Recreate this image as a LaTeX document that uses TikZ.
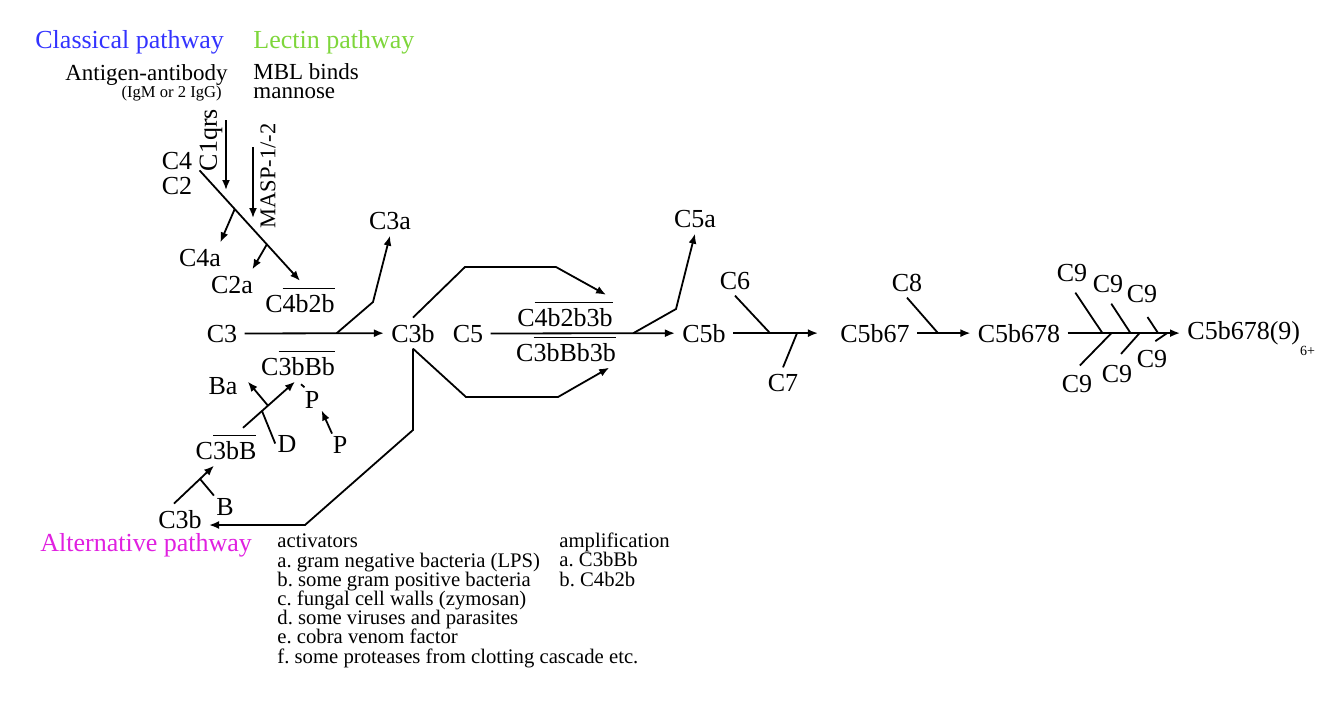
\documentclass[tikz,border=0pt]{standalone}
\usepackage{fontspec}
\setmainfont{Liberation Serif}
\usetikzlibrary{arrows.meta,positioning,calc}
\definecolor{classblue}{HTML}{3333FF}
\definecolor{lectgreen}{HTML}{7ED63B}
\definecolor{altmagenta}{HTML}{E020E0}
\newcommand{\actv}[1]{$\overline{\mbox{\rule{0pt}{0.8em}#1}}$}
\newcommand{\listfont}{\fontsize{10.35}{9.6}\selectfont\lineskiplimit=-5pt\relax}
\newcommand{\notefont}{\fontsize{11.5}{9.2}\selectfont\lineskiplimit=-5pt\relax}
\frenchspacing

\begin{document}
\begin{tikzpicture}[
  x=0.5pt,y=-0.5pt,
  lbl/.style={font=\fontsize{13}{15.6}\selectfont,anchor=base,inner xsep=3.5pt,inner ysep=3pt},
  sml/.style={lbl,inner sep=1pt},
  ttl/.style={font=\fontsize{13}{15.6}\selectfont,inner sep=0pt},
  note/.style={font=\notefont,inner sep=0pt,align=left},
  txt/.style={font=\listfont,inner sep=0pt,align=left,anchor=base west},
  arr/.style={-{Latex[length=5pt,width=4pt]},line width=0.9pt},
  ln/.style={line width=0.9pt}
]
\useasboundingbox (0,0) rectangle (1334,709);
% titles
\node[ttl,classblue,anchor=base west] (classical) at (35,48) {Classical pathway};
\node[ttl,lectgreen,anchor=base west] (lectin) at (253,48) {Lectin pathway};
\node[ttl,altmagenta,anchor=base west] (altern) at (40,551) {Alternative pathway};
\node[note,anchor=base east] (antigen) at (228,80) {Antigen-antibody};
\node[note,anchor=base east,font=\fontsize{8.3}{10}\selectfont] (igm) at (222,97) {(IgM or 2 IgG)};
% multi-line: base is the last line
\node[note,anchor=base west] (mbl) at (253,98) {MBL binds\\mannose};
\node[ttl,rotate=90] (c1qrs) at (211,140) {C1qrs};
\node[ttl,rotate=90,font=\fontsize{11.25}{13}\selectfont] (masp) at (268,176) {MASP-1/-2};
\coordinate (c1top) at (226,120);
\coordinate (c1end) at (226,190);
\coordinate (masptop) at (253,147);
\coordinate (maspend) at (253,218);
\draw[arr] (c1top) -- (c1end);
\draw[arr] (masptop) -- (maspend);

% classical / lectin cleavage
\node[lbl] (c4) at (177,169) {C4};
\node[lbl] (c2) at (177,194) {C2};
\node[lbl] (c4a) at (200,266) {C4a};
\node[lbl] (c2a) at (232,293) {C2a};
\node[lbl] (c4b2b) at (300,312) {C\actv{4b2b}};
\draw[arr] (c2.north east) -- (c4b2b.north);
\coordinate (c4cut) at ($(c2.north east)!0.35!(c4b2b.north)$);
\coordinate (c2cut) at ($(c2.north east)!0.67!(c4b2b.north)$);
\draw[arr] (c4cut) -- ([xshift=-4pt]c4a.north east);
\draw[arr] (c2cut) -- ([xshift=-4pt]c2a.north east);

% C3 convertase step
\node[lbl] (c3) at (222,342) {C3};
\node[lbl] (c3b) at (413,342) {C3b};
\node[lbl] (c3a) at (390,229) {C3a};
\draw[arr] (c3) -- (c3b);
\coordinate (c3cut) at ($(c3)!0.6!(c3b)$);
\coordinate (c3abend) at (373,302);
\draw[arr] (c3cut) -- (c3abend) -- (c3a.south);

% C5 convertases
\node[lbl] (c5) at (468,342) {C5};
\node[lbl] (c5b) at (704,342) {C5b};
\node[lbl] (c5a) at (695,227) {C5a};
\node[lbl] (c4b2b3b) at (565,326) {C\actv{4b2b3b}};
\node[lbl] (c3bbb3b) at (566,361) {C\actv{3bBb3b}};
\coordinate (up1) at (465,267);
\coordinate (up2) at (556,267);
\coordinate (lo1) at (466,397);
\coordinate (lo2) at (558,397);
\draw[arr] (c3b.north) -- (up1) -- (up2) -- ([xshift=-7pt]c4b2b3b.north east);
\draw[arr] (c3b.south) -- (lo1) -- (lo2) -- ([xshift=-7pt]c3bbb3b.south east);
\draw[arr] (c5) -- (c5b);
\coordinate (c5cut) at ($(c5)!0.7!(c5b)$);
\coordinate (c5abend) at (676,309);
\draw[arr] (c5cut) -- (c5abend) -- (c5a.south);

% membrane attack complex
\node[lbl] (c5b67) at (875,342) {C5b67};
\node[lbl] (c6) at (735,289) {C6};
\node[lbl] (c7) at (783,391) {C7};
\draw[arr,shorten >=7.5pt] (c5b) -- (c5b67);
\draw[ln] (c6.south) -- ($(c5b)!0.386!(c5b67)$);
\draw[ln] (c7.north) -- ($(c5b)!0.544!(c5b67)$);
\node[lbl] (c5b678) at (1019,342) {C5b678};
\node[lbl] (c8) at (907,291) {C8};
\draw[arr] (c5b67) -- (c5b678);
\draw[ln] (c8.south) -- ($(c5b67)!0.4375!(c5b678)$);
\node[lbl,anchor=base west] (mac) at (1180,339) {C5b678(9)\raisebox{-8pt}{\fontsize{7}{8}\selectfont 6+}};
\coordinate (macend) at (c5b678 -| mac.west);
\draw[arr] (c5b678) -- (macend);
\node[lbl] (c9a) at (1072,281) {C9};
\node[lbl] (c9b) at (1108,292) {C9};
\node[lbl] (c9c) at (1142,302) {C9};
\node[lbl] (c9d) at (1077,392) {C9};
\node[lbl] (c9e) at (1117,382) {C9};
\node[lbl] (c9f) at (1152,367) {C9};
\draw[ln,shorten <=3pt] (c9a.south) -- ($(c5b678.east)!0.31!(macend)$);
\draw[ln,shorten <=3pt] (c9b.south) -- ($(c5b678.east)!0.56!(macend)$);
\draw[ln,shorten <=5pt] (c9c.south) -- ($(c5b678.east)!0.805!(macend)$);
\draw[ln,shorten <=2pt] (c9d.north) -- ($(c5b678.east)!0.39!(macend)$);
\draw[ln,shorten <=3pt] (c9e.north) -- ($(c5b678.east)!0.64!(macend)$);
\draw[ln,shorten <=2pt] (c9f.north) -- ($(c5b678.east)!0.885!(macend)$);

% alternative pathway loop
\node[lbl] (c3bl) at (180,528) {C3b};
\node[sml] (b) at (225,515) {B};
\node[lbl] (c3bb) at (226,459) {C\actv{3bB}};
\node[sml] (d) at (287,452) {D};
\node[sml] (ba) at (223,394) {Ba};
\node[lbl] (c3bbb) at (298,375) {C\actv{3bBb}};
\node[sml] (pu) at (312,408) {P};
\node[sml] (pl) at (340,453) {P};
\coordinate (altA) at (413,430);
\coordinate (altB) at (305,525);
\draw[arr] (c3b.south) -- (altA) -- (altB) -- (altB -| c3bl.east);
\draw[arr] ([xshift=-3pt]c3bl.north) -- ([xshift=-6pt]c3bb.south);
\draw[ln] (b.north west) -- ($([xshift=-3pt]c3bl.north)!0.65!([xshift=-6pt]c3bb.south)$);
\draw[arr] ([xshift=8.5pt]c3bb.north) -- ([xshift=-1.5pt]c3bbb.south);
\draw[ln] (d.west) -- ($([xshift=8.5pt]c3bb.north)!0.365!([xshift=-1.5pt]c3bbb.south)$);
\draw[arr] ($([xshift=8.5pt]c3bb.north)!0.48!([xshift=-1.5pt]c3bbb.south)$) -- ([xshift=4pt,yshift=2pt]ba.east);
\draw[ln,shorten <=1pt,shorten >=2pt] ([xshift=-3pt]pu.north) -- (c3bbb.south);
\draw[arr] ([xshift=-4pt]pl.north) -- (pu.south east);

% activators and amplification (base = last line)
\node[txt] (activ) at (277,663) {activators\\a. gram negative bacteria (LPS)\\b. some gram positive bacteria\\c. fungal cell walls (zymosan)\\d. some viruses and parasites\\e. cobra venom factor\\f. some proteases from clotting cascade etc.};
\node[txt] (ampl) at (559,586) {amplification\\a. C3bBb\\b. C4b2b};
\end{tikzpicture}
\end{document}
